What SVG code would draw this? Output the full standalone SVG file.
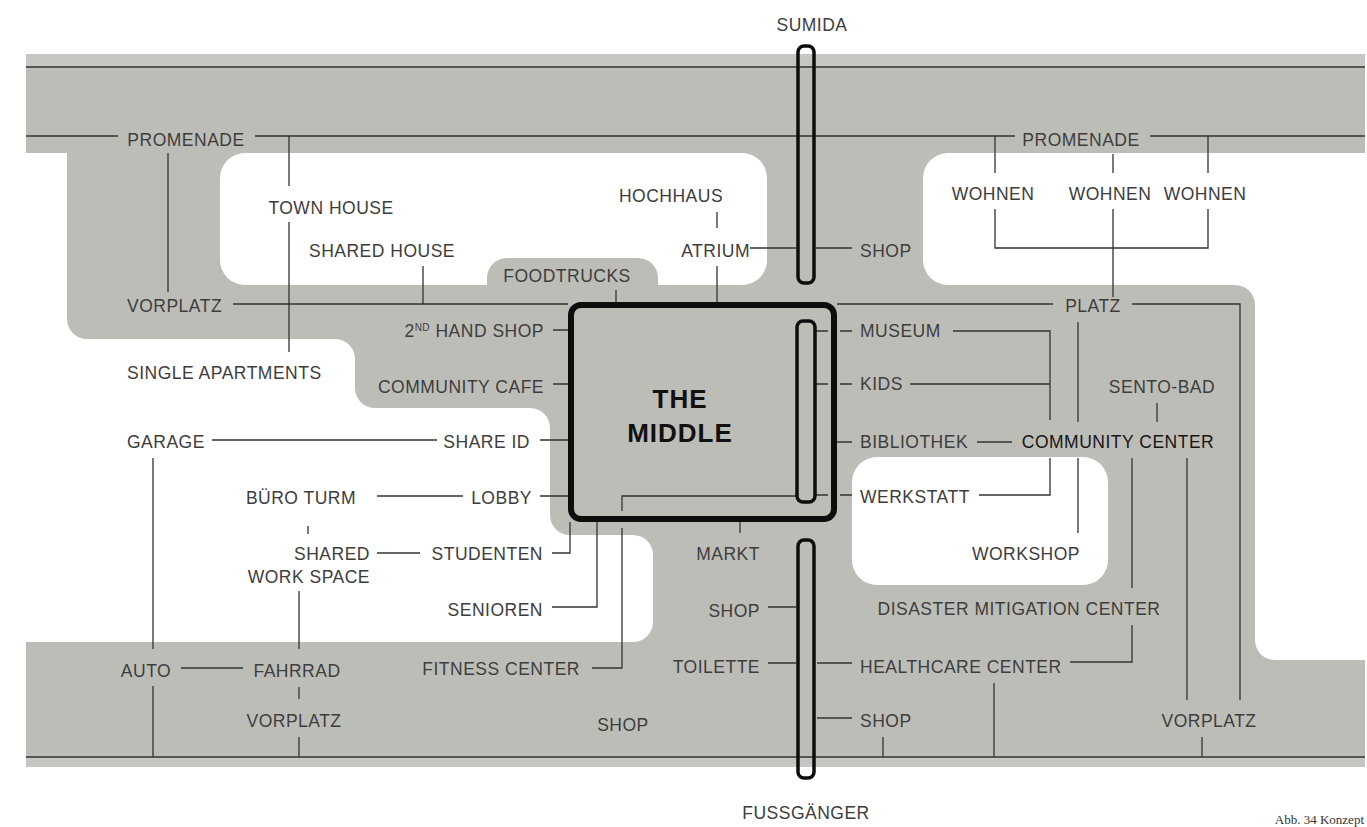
<svg xmlns="http://www.w3.org/2000/svg" width="1367" height="827" viewBox="0 0 1367 827">
<style>
.t{font-family:"Liberation Sans",Arial,sans-serif;font-size:17.5px;letter-spacing:0.5px;fill:#3d3d3d}
.m{text-anchor:middle}.e{text-anchor:end}
.cc{fill:#161616;font-weight:500}
.big{font-family:"Liberation Sans",Arial,sans-serif;font-size:26px;font-weight:bold;letter-spacing:1px;fill:#111;text-anchor:middle}
.ln{fill:none;stroke:#333;stroke-width:1.3}
.bar{fill:none;stroke:#0d0d0d;stroke-width:3.5}
.gray{fill:#bdbdb8}.light{fill:#c6c6c2}.white{fill:#fff}
</style>
<rect width="1367" height="827" fill="#fff"/>
<g id="ground">
<rect class="gray" x="26" y="54" width="1339" height="713"/>
<rect class="light" x="26" y="54" width="1339" height="12"/>
<rect class="light" x="26" y="758" width="1339" height="9"/>
<path class="white" d="M26 153 H67 V319 A20 20 0 0 0 87 339 H335 A20 20 0 0 1 355 359 V388 A20 20 0 0 0 375 408 H530 A20 20 0 0 1 550 428 V515 A20 20 0 0 0 570 535 H633 A20 20 0 0 1 653 555 V622 A20 20 0 0 1 633 642 H26 Z"/>
<rect class="white" x="220" y="153" width="547" height="132" rx="25"/>
<path class="gray" d="M487 285 V278 A20 20 0 0 1 507 258 H638 A20 20 0 0 1 658 278 V285 Z"/>
<path class="white" d="M948 153 H1367 V660 H1275 A20 20 0 0 1 1255 640 V305 A20 20 0 0 0 1235 285 H948 A25 25 0 0 1 923 260 V178 A25 25 0 0 1 948 153 Z"/>
<rect class="white" x="852" y="457" width="256" height="128" rx="25"/>
</g>
<g id="connectors">
<path class="ln" d="M26 67 H1365 M26 757 H1365"/>
<path class="ln" d="M26 136 H118 M255 136 H1015 M1150 136 H1365"/>
<path class="ln" d="M168 153 V292 M289 136 V186 M289 222 V352 M423 266 V304 M233 304 H568"/>
<path class="ln" d="M616 290 V302 M717 212 V228 M717 266 V302 M750 248 H796 M816 248 H852"/>
<path class="ln" d="M995 136 V173 M1208 136 V173 M1113 154 V173 M995 209 V248 H1208 V209 M1113 209 V297"/>
<path class="ln" d="M837 304 H1053 M1132 304 H1240 V700 M1078 322 V422 M1078 458 V533 M1157 403 V422"/>
<path class="ln" d="M815 331 H828 M840 331 H852 M953 331 H1050 V420 M815 384 H828 M840 384 H852 M910 384 H1050"/>
<path class="ln" d="M837 442 H852 M977 442 H1012 M815 495 H828 M840 495 H852 M979 495 H1050 V458"/>
<path class="ln" d="M797 496 H622 V511 M622 528 V668 H592"/>
<path class="ln" d="M553 330 H568 M553 384 H568 M540 440 H568 M540 496 H568 M212 440 H437 M377 496 H463"/>
<path class="ln" d="M308 526 V534 M377 553 H420 M552 553 H570 V522 M552 607 H597 V522 M740 522 V533"/>
<path class="ln" d="M768 607 H796 M768 663 H796 M817 663 H852 M817 718 H852 M883 737 V757 M994 683 V757"/>
<path class="ln" d="M1132 458 V588 M1132 625 V662 H1070 M1187 458 V700 M1202 737 V757"/>
<path class="ln" d="M153 458 V649 M153 686 V757 M181 668 H243 M299 591 V649 M299 687 V699 M299 737 V757"/>
</g>
<g id="sumida-bridge"><rect class="bar" x="798" y="46" width="16" height="237" rx="6"/></g>
<g id="fussgaenger-bridge"><rect class="bar" x="798" y="540" width="16" height="238" rx="6"/></g>
<g id="the-middle">
<rect x="571" y="305" width="263" height="214" rx="10" fill="none" stroke="#0d0d0d" stroke-width="6"/>
<rect class="bar" x="797" y="321" width="18" height="181" rx="6"/>
<text class="big" x="680" y="408">THE</text>
<text class="big" x="680" y="442">MIDDLE</text>
</g>
<g id="n-sumida"><text class="t m" x="812" y="31">SUMIDA</text></g>
<g id="n-promenade-l"><text class="t m" x="186" y="146">PROMENADE</text></g>
<g id="n-promenade-r"><text class="t m" x="1081" y="146">PROMENADE</text></g>
<g id="n-townhouse"><text class="t m" x="331" y="214">TOWN HOUSE</text></g>
<g id="n-sharedhouse"><text class="t m" x="382" y="257">SHARED HOUSE</text></g>
<g id="n-hochhaus"><text class="t m" x="671" y="202">HOCHHAUS</text></g>
<g id="n-atrium"><text class="t e" x="750" y="257">ATRIUM</text></g>
<g id="n-shop-top"><text class="t" x="860" y="257">SHOP</text></g>
<g id="n-wohnen1"><text class="t m" x="993" y="200">WOHNEN</text></g>
<g id="n-wohnen2"><text class="t m" x="1110" y="200">WOHNEN</text></g>
<g id="n-wohnen3"><text class="t m" x="1205" y="200">WOHNEN</text></g>
<g id="n-foodtrucks"><text class="t m" x="567" y="282">FOODTRUCKS</text></g>
<g id="n-vorplatz-l"><text class="t" x="127" y="312">VORPLATZ</text></g>
<g id="n-platz"><text class="t m" x="1093" y="312">PLATZ</text></g>
<g id="n-2ndhand"><text class="t e" x="544" y="337">2<tspan font-size="10" dy="-6">ND</tspan><tspan dy="6"> HAND SHOP</tspan></text></g>
<g id="n-museum"><text class="t" x="860" y="337">MUSEUM</text></g>
<g id="n-single"><text class="t" x="127" y="379">SINGLE APARTMENTS</text></g>
<g id="n-cafe"><text class="t e" x="544" y="393">COMMUNITY CAFE</text></g>
<g id="n-kids"><text class="t" x="860" y="390">KIDS</text></g>
<g id="n-sento"><text class="t m" x="1162" y="393">SENTO-BAD</text></g>
<g id="n-garage"><text class="t" x="127" y="448">GARAGE</text></g>
<g id="n-shareid"><text class="t e" x="530" y="448">SHARE ID</text></g>
<g id="n-bibliothek"><text class="t" x="860" y="448">BIBLIOTHEK</text></g>
<g id="n-community-center"><text class="t m cc" x="1118" y="448">COMMUNITY CENTER</text></g>
<g id="n-buero"><text class="t m" x="301" y="504">BÜRO TURM</text></g>
<g id="n-lobby"><text class="t e" x="532" y="504">LOBBY</text></g>
<g id="n-werkstatt"><text class="t" x="860" y="503">WERKSTATT</text></g>
<g id="n-shared-ws"><text class="t e" x="370" y="560">SHARED</text><text class="t e" x="370" y="583">WORK SPACE</text></g>
<g id="n-studenten"><text class="t e" x="543" y="560">STUDENTEN</text></g>
<g id="n-markt"><text class="t m" x="728" y="560">MARKT</text></g>
<g id="n-workshop"><text class="t m" x="1026" y="560">WORKSHOP</text></g>
<g id="n-senioren"><text class="t e" x="543" y="616">SENIOREN</text></g>
<g id="n-shop-mid"><text class="t e" x="760" y="617">SHOP</text></g>
<g id="n-disaster"><text class="t m" x="1019" y="615">DISASTER MITIGATION CENTER</text></g>
<g id="n-fitness"><text class="t e" x="580" y="675">FITNESS CENTER</text></g>
<g id="n-toilette"><text class="t e" x="760" y="673">TOILETTE</text></g>
<g id="n-healthcare"><text class="t" x="860" y="673">HEALTHCARE CENTER</text></g>
<g id="n-auto"><text class="t m" x="146" y="677">AUTO</text></g>
<g id="n-fahrrad"><text class="t m" x="297" y="677">FAHRRAD</text></g>
<g id="n-vorplatz-b"><text class="t m" x="294" y="727">VORPLATZ</text></g>
<g id="n-shop-bottom"><text class="t m" x="623" y="731">SHOP</text></g>
<g id="n-shop-br"><text class="t" x="860" y="727">SHOP</text></g>
<g id="n-vorplatz-r"><text class="t m" x="1209" y="727">VORPLATZ</text></g>
<g id="n-fussgaenger"><text class="t m" x="806" y="819">FUSSGÄNGER</text></g>
<g id="caption"><text x="1364" y="824" text-anchor="end" font-family="Liberation Serif,serif" font-size="13" fill="#333">Abb. 34  Konzept</text></g>
</svg>
